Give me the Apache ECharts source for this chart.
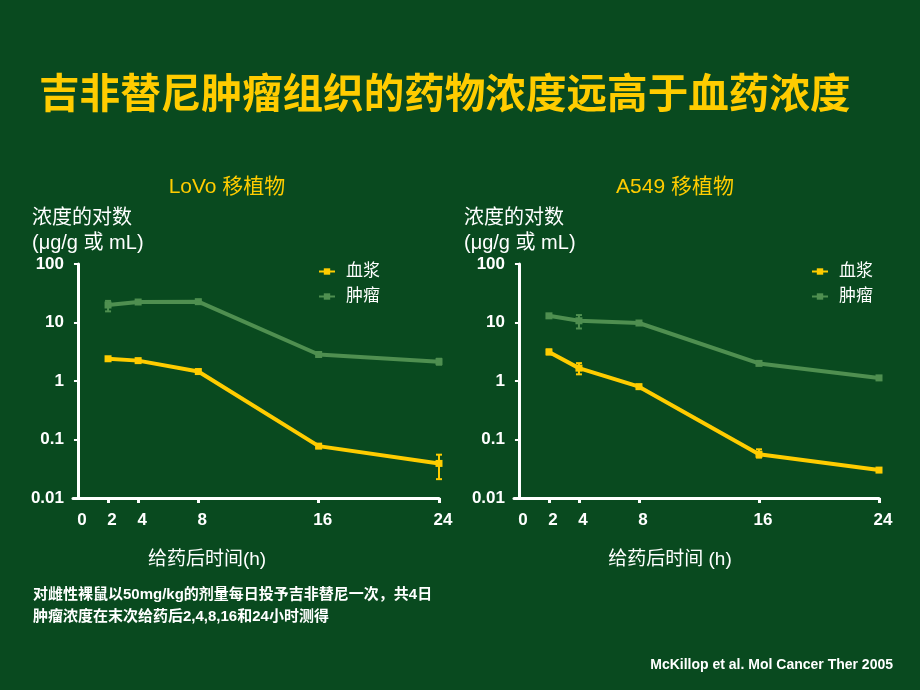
<!DOCTYPE html>
<html>
<head>
<meta charset="utf-8">
<script src="https://cdn.jsdelivr.net/npm/echarts@6/dist/echarts.min.js"></script>
<style>
html,body{margin:0;padding:0;background:#094a1f;}
#c{width:920px;height:690px;}
</style>
</head>
<body>
<div id="c"></div>
<script>
const hours = [2, 4, 8, 16, 24];
const xTickLabels = [0, 2, 4, 8, 16, 24];
const yTickLabels = [0.01, 0.1, 1, 10, 100];
const seriesNames = ['血浆', '肿瘤'];

// LoVo
const lovoPlasma = [2.4, 2.23, 1.45, 0.077, 0.039];
const lovoPlasmaLow = [2.25, 2.1, 1.35, 0.072, 0.021];
const lovoPlasmaHigh = [2.55, 2.38, 1.58, 0.083, 0.055];
const lovoTumor = [19.9, 22.4, 22.7, 2.84, 2.14];
const lovoTumorLow = [15.5, 21.0, 21.3, 2.65, 1.9];
const lovoTumorHigh = [23.4, 23.8, 24.2, 3.05, 2.4];

// A549
const a549Plasma = [3.14, 1.66, 0.80, 0.056, 0.030];
const a549PlasmaLow = [2.85, 1.3, 0.74, 0.049, 0.028];
const a549PlasmaHigh = [3.45, 2.02, 0.86, 0.068, 0.032];
const a549Tumor = [13.0, 10.7, 9.8, 2.0, 1.13];
const a549TumorLow = [12.2, 7.9, 9.2, 1.88, 1.05];
const a549TumorHigh = [13.8, 13.4, 10.4, 2.12, 1.21];

const YELLOW = '#ffcc00';
const GREEN = '#4f8f50';
const FONT = '"Liberation Sans", Arial, "Noto Sans CJK SC", sans-serif';

function pairs(xs, ys) { return xs.map((x, i) => [x, ys[i]]); }
function errData(xs, lo, hi) { return xs.map((x, i) => [x, lo[i], hi[i]]); }

function errRender(color) {
  return function (params, api) {
    const x = api.value(0);
    const p1 = api.coord([x, api.value(1)]);
    const p2 = api.coord([x, api.value(2)]);
    const w = 3;
    const st = { stroke: color, lineWidth: 2 };
    return {
      type: 'group',
      children: [
        { type: 'line', shape: { x1: p1[0], y1: p1[1], x2: p2[0], y2: p2[1] }, style: st },
        { type: 'line', shape: { x1: p1[0] - w, y1: p1[1], x2: p1[0] + w, y2: p1[1] }, style: st },
        { type: 'line', shape: { x1: p2[0] - w, y1: p2[1], x2: p2[0] + w, y2: p2[1] }, style: st }
      ]
    };
  };
}

function xAxis(gi) {
  return {
    type: 'value', gridIndex: gi, min: -0.33, max: 24,
    axisLine: { show: true, onZero: false, lineStyle: { color: '#ffffff', width: 3 } },
    axisTick: { show: true, customValues: hours, length: 5, lineStyle: { color: '#ffffff', width: 3 } },
    axisLabel: { customValues: xTickLabels, color: '#ffffff', fontWeight: 'bold', fontSize: 17, fontFamily: FONT, margin: 14, padding: [0, 0, 0, 8] },
    splitLine: { show: false }
  };
}
function yAxis(gi) {
  return {
    type: 'log', logBase: 10, gridIndex: gi, min: 0.01, max: 100,
    axisLine: { show: true, lineStyle: { color: '#ffffff', width: 3 } },
    axisTick: { show: true, customValues: yTickLabels, length: 4, lineStyle: { color: '#ffffff', width: 2 } },
    axisLabel: { customValues: yTickLabels, color: '#ffffff', fontWeight: 'bold', fontSize: 17, fontFamily: FONT, margin: 9,
      formatter: v => String(v) },
    minorTick: { show: false },
    splitLine: { show: false }
  };
}
function lineSeries(name, color, data, gi) {
  return {
    type: 'line', name: name, xAxisIndex: gi, yAxisIndex: gi, data: data,
    symbol: 'rect', symbolSize: 7, showSymbol: true,
    lineStyle: { color: color, width: 4 }, itemStyle: { color: color },
    emphasis: { disabled: true }, z: 3
  };
}
function errSeries(color, data, gi) {
  return { type: 'custom', xAxisIndex: gi, yAxisIndex: gi, data: data, renderItem: errRender(color), z: 4, silent: true };
}
function legend(left) {
  return {
    left: left, top: 258, orient: 'vertical', itemGap: 8, itemWidth: 16, itemHeight: 8,
    data: seriesNames, selectedMode: false,
    textStyle: { color: '#ffffff', fontSize: 17, fontFamily: FONT, padding: [0, 0, 0, 6] }
  };
}

const chart = echarts.init(document.getElementById('c'));
chart.setOption({
  backgroundColor: '#094a1f',
  animation: false,
  title: [
    { text: '吉非替尼肿瘤组织的药物浓度远高于血药浓度', left: 34, top: 72,
      textStyle: { color: YELLOW, fontSize: 40.6, fontWeight: 'bold', fontFamily: FONT } },
    { text: 'LoVo 移植物', left: 222, textAlign: 'center', top: 172,
      textStyle: { color: YELLOW, fontSize: 21, fontWeight: 'normal', fontFamily: FONT } },
    { text: 'A549 移植物', left: 670, textAlign: 'center', top: 172,
      textStyle: { color: YELLOW, fontSize: 21, fontWeight: 'normal', fontFamily: FONT } }
  ],
  graphic: [
    { type: 'text', x: 32, y: 206, style: { text: '浓度的对数\n(μg/g 或 mL)', fill: '#fff', font: '20px ' + FONT, lineHeight: 25 } },
    { type: 'text', x: 464, y: 206, style: { text: '浓度的对数\n(μg/g 或 mL)', fill: '#fff', font: '20px ' + FONT, lineHeight: 25 } },
    { type: 'text', x: 207, y: 560, style: { text: '给药后时间(h)', fill: '#fff', font: '19px ' + FONT, align: 'center', verticalAlign: 'middle' } },
    { type: 'text', x: 670, y: 560, style: { text: '给药后时间 (h)', fill: '#fff', font: '19px ' + FONT, align: 'center', verticalAlign: 'middle' } },
    { type: 'text', x: 33, y: 584, style: { text: '对雌性裸鼠以50mg/kg的剂量每日投予吉非替尼一次，共4日\n肿瘤浓度在末次给药后2,4,8,16和24小时测得', fill: '#fff', font: 'bold 15px ' + FONT, lineHeight: 22 } },
    { type: 'text', x: 893, y: 665, style: { text: 'McKillop et al. Mol Cancer Ther 2005', fill: '#fff', font: 'bold 14px ' + FONT, align: 'right', verticalAlign: 'middle' } }
  ],
  legend: [legend(313), legend(806)],
  grid: [
    { left: 73, top: 264, width: 366, height: 234 },
    { left: 514, top: 264, width: 365, height: 234 }
  ],
  xAxis: [xAxis(0), xAxis(1)],
  yAxis: [yAxis(0), yAxis(1)],
  series: [
    lineSeries('血浆', YELLOW, pairs(hours, lovoPlasma), 0),
    lineSeries('肿瘤', GREEN, pairs(hours, lovoTumor), 0),
    errSeries(YELLOW, errData(hours, lovoPlasmaLow, lovoPlasmaHigh), 0),
    errSeries(GREEN, errData(hours, lovoTumorLow, lovoTumorHigh), 0),
    lineSeries('血浆', YELLOW, pairs(hours, a549Plasma), 1),
    lineSeries('肿瘤', GREEN, pairs(hours, a549Tumor), 1),
    errSeries(YELLOW, errData(hours, a549PlasmaLow, a549PlasmaHigh), 1),
    errSeries(GREEN, errData(hours, a549TumorLow, a549TumorHigh), 1)
  ]
});
</script>
</body>
</html>
